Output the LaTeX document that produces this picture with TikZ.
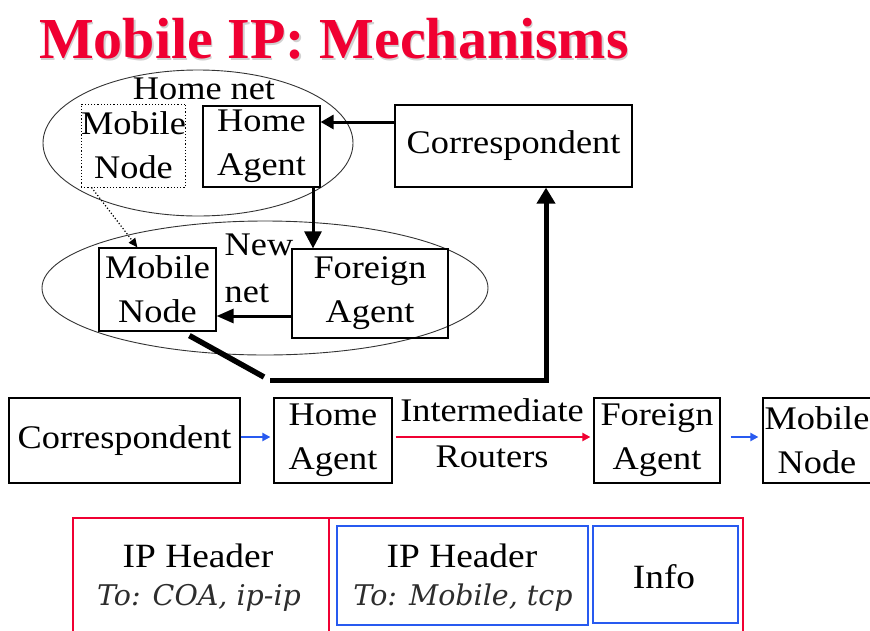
\documentclass[tikz,border=0pt]{standalone}
\usepackage{fontspec}
\setmainfont{Liberation Serif}
\newfontfamily\bodyfont[FakeStretch=1.1]{Liberation Serif}
\newfontfamily\itfont{DejaVu Serif}
\usetikzlibrary{arrows.meta,shapes.geometric}
\definecolor{tred}{RGB}{240,0,50}
\definecolor{pblue}{RGB}{40,90,240}
\definecolor{itgray}{RGB}{45,45,45}
\begin{document}
\begin{tikzpicture}[x=1pt,y=-1pt,
  lbl/.style={font=\bodyfont\fontsize{33}{44}\selectfont, align=center, inner sep=0pt},
  box/.style={lbl, draw, line width=1.2pt},
  net/.style={ellipse, draw=black!80, line width=0.9pt, inner sep=0pt},
  blk/.style={line width=3pt},
  hdr/.style={font=\bodyfont\fontsize{34}{40}\selectfont, inner sep=0pt, anchor=base},
  itl/.style={font=\itfont\itshape\fontsize{28.5}{32}\selectfont, text=itgray, inner sep=0pt, anchor=base},
  flow/.style={line width=2pt, -{Triangle[length=8pt,width=8pt]}}]
\clip (0,0) rectangle (870,630);
\fill[white] (0,0) rectangle (870,630);
% title
\node[font=\fontsize{58}{60}\selectfont\bfseries, text=black!18, inner sep=0pt, anchor=base] (titleshadow) at (335.5,60.5) {Mobile IP: Mechanisms};
\node[font=\fontsize{58}{60}\selectfont\bfseries, text=tred, inner sep=0pt, anchor=base] (title) at (334,58) {Mobile IP: Mechanisms};
% networks
\node[net, minimum width=310pt, minimum height=146pt] (homenet) at (198,143) {};
\node[net, minimum width=446pt, minimum height=134pt] (newnet) at (265,288) {};
\node[lbl, anchor=base] (homenetlbl) at (204,99) {Home net};
\node[lbl, align=left, font=\bodyfont\fontsize{33}{47}\selectfont] (newnetlbl) at (259,268) {New\\net};
% top boxes
\node[box, dotted, line width=1pt, minimum width=103pt, minimum height=83pt] (mnh) at (133.5,145.5) {Mobile\\Node};
\node[box, minimum width=117pt, minimum height=81pt] (ha1) at (261.5,146.5) {Home\\Agent};
\node[box, minimum width=237pt, minimum height=82pt] (corr1) at (513.5,146) {Correspondent};
\node[box, minimum width=117pt, minimum height=83pt] (mn1) at (157.5,289.5) {Mobile\\Node};
\node[box, minimum width=156pt, minimum height=89pt] (fa1) at (370,293.5) {Foreign\\Agent};
% top arrows
\draw[blk, -{Triangle[length=13pt,width=14pt]}] (corr1.west |- 0,122) -- (ha1.east |- 0,122);
\draw[blk, -{Triangle[length=17pt,width=17pt]}] (ha1.south -| 313,0) -- (fa1.north -| 313,0);
\draw[blk, -{Triangle[length=17pt,width=14pt]}] (fa1.west |- 0,316) -- (mn1.east |- 0,316);
\draw[line width=1.2pt, dotted, -{Triangle[length=9pt,width=8pt]}] ([xshift=11pt]mnh.south west) -- ([xshift=39pt]mn1.north west);
\coordinate (c1) at (264,377);
\coordinate (c2) at (270,380);
\coordinate (turn) at (546,380);
\draw[line width=5.5pt] ([xshift=91pt,yshift=-4pt]mn1.south west) -- (c1);
\draw[line width=5pt, -{Triangle[length=16pt,width=18pt]}] (c2) -- (turn) -- (turn |- corr1.south);
% second row
\node[box, minimum width=231pt, minimum height=85pt] (corr2) at (124.5,440.5) {Correspondent};
\node[box, minimum width=118pt, minimum height=85pt] (ha2) at (333,440.5) {Home\\Agent};
\node[box, minimum width=126pt, minimum height=85pt] (fa2) at (657,440.5) {Foreign\\Agent};
\node[box, minimum width=108pt, minimum height=85pt] (mn2) at (817,440.5) {Mobile\\Node};
\draw[flow, pblue, shorten >=3pt] (corr2.east |- 0,437) -- (ha2.west |- 0,437);
\draw[flow, tred, shorten <=3pt, shorten >=3pt] (ha2.east |- 0,437) -- (fa2.west |- 0,437);
\draw[flow, pblue, shorten <=10pt, shorten >=4pt] (fa2.east |- 0,437) -- (mn2.west |- 0,437);
\node[lbl, anchor=base] (irt1) at (492,421) {Intermediate};
\node[lbl, anchor=base] (irt2) at (492,467) {Routers};
% packet
\draw[tred, line width=1.5pt] (73,518) rectangle (743,640);
\draw[tred, line width=1.5pt] (329,518) -- (329,640);
\node[draw=pblue, line width=1.8pt, minimum width=251pt, minimum height=99pt, inner sep=0pt] (ipbox) at (462.5,575.5) {};
\node[draw=pblue, line width=1.8pt, minimum width=145pt, minimum height=97pt, inner sep=0pt] (infobox) at (665.5,574.5) {};
\node[hdr] (h1) at (198,567) {IP Header};
\node[itl] (h1b) at (199,605) {To: COA, ip-ip};
\node[hdr] (h2) at (462,567) {IP Header};
\node[itl] (h2b) at (463,605) {To: Mobile, tcp};
\node[hdr] (info) at (664,588) {Info};
\end{tikzpicture}
\end{document}
